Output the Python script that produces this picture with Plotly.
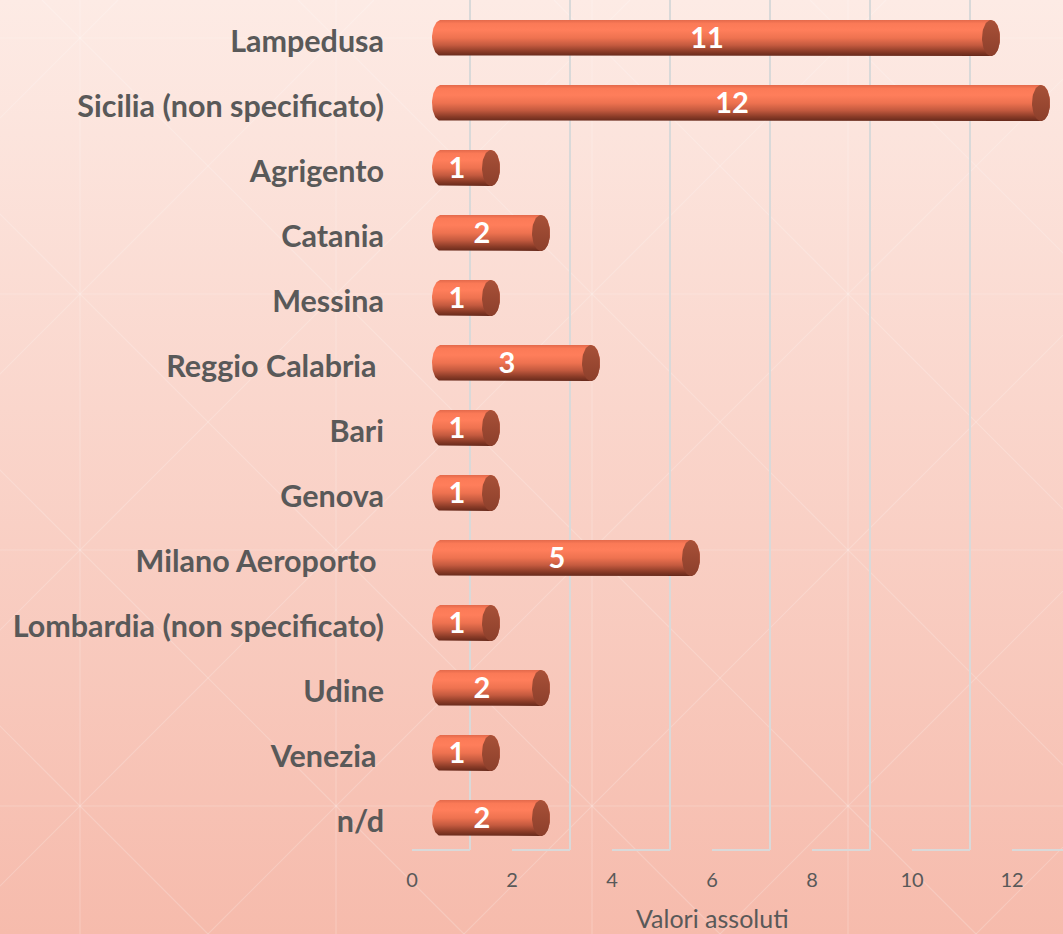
import base64
import numpy as np
import plotly.graph_objects as go

# data (top to bottom)
categories = ["Lampedusa", "Sicilia (non specificato)", "Agrigento", "Catania", "Messina",
              "Reggio Calabria ", "Bari", "Genova", "Milano Aeroporto ",
              "Lombardia (non specificato)", "Udine", "Venezia ", "n/d"]
values = [11, 12, 1, 2, 1, 3, 1, 1, 5, 1, 2, 1, 2]
x_ticks = [0, 2, 4, 6, 8, 10, 12]
axis_title = "Valori assoluti"

W, H = 1063, 934
FONT = "Lato"
GREY = "#595959"
GRID = "#D9D9D9"

body_scale = [[0.0, "#66291B"], [0.12, "#8A3B27"], [0.3, "#C45A3F"], [0.5, "#EE7250"],
              [0.72, "#FF7E5B"], [0.9, "#FB7A57"], [1.0, "#E3694B"]]
cap_scale = [[0.0, "#8C3F2B"], [1.0, "#A85138"]]

half_h = 0.277      # half bar thickness, in category units
cap_rx = 0.18       # ellipse half width of the cylinder ends, in value units
depth = 1.16        # 3d depth of the floor, in value units
floor_y = 84 / H
label_drop = 0.04   # nudge data labels down to sit centred on the bars


def background_svg():
    parts = ['<svg xmlns="http://www.w3.org/2000/svg" width="%d" height="%d">' % (W, H),
             '<defs><linearGradient id="g" x1="0" y1="0" x2="0" y2="1">',
             '<stop offset="0" stop-color="#FDEBE5"/><stop offset="1" stop-color="#F6BBAC"/>',
             '</linearGradient></defs>',
             '<rect width="%d" height="%d" fill="url(#g)"/>' % (W, H),
             '<g stroke="#FFFFFF" stroke-opacity="0.2" stroke-width="1.2">']
    step = 256
    for i in range(-1, 6):
        x = 80 + step * i
        parts.append('<line x1="%d" y1="0" x2="%d" y2="%d"/>' % (x, x, H))
    for j in range(-1, 5):
        y = 38 + step * j
        parts.append('<line x1="0" y1="%d" x2="%d" y2="%d"/>' % (y, W, y))
    for k in range(-6, 8):
        c = 80 - 38 + step * k
        parts.append('<line x1="%d" y1="0" x2="%d" y2="%d"/>' % (c, c + 1200, 1200))
        c2 = 80 + 38 + step * k
        parts.append('<line x1="%d" y1="0" x2="%d" y2="%d"/>' % (c2, c2 - 1200, 1200))
    parts.append('</g></svg>')
    return "data:image/svg+xml;base64," + base64.b64encode("".join(parts).encode()).decode()


n = len(categories)
y_pos = [n - 1 - i for i in range(n)]

fig = go.Figure()

# first subplot: back wall grid (drawn underneath the bars)
fig.add_trace(go.Scatter(x=[None], y=[None], xaxis="x", yaxis="y",
                         showlegend=False, hoverinfo="skip"))
for k in x_ticks:
    fig.add_shape(type="line", xref="x3", yref="paper",
                  x0=k, x1=k + depth, y0=floor_y, y1=floor_y,
                  line=dict(color=GRID, width=2), layer="below")

# second subplot: cylinders
t = np.linspace(0, np.pi, 40)
tt = np.linspace(0, 2 * np.pi, 60)
for v, y in zip(values, y_pos):
    right_x = v + cap_rx + cap_rx * np.sin(t)
    right_y = y + half_h * np.cos(t)
    left_x = cap_rx - cap_rx * np.sin(t)
    left_y = y - half_h * np.cos(t)
    bx = np.concatenate([right_x, left_x, right_x[:1]])
    by = np.concatenate([right_y, left_y, right_y[:1]])
    fig.add_trace(go.Scatter(
        x=bx, y=by, xaxis="x2", yaxis="y2", mode="lines", line=dict(width=0), fill="toself",
        fillgradient=dict(type="vertical", colorscale=body_scale,
                          start=y - half_h, stop=y + half_h),
        hoverinfo="skip", showlegend=False))
    fig.add_trace(go.Scatter(
        x=v + cap_rx + cap_rx * np.sin(tt), y=y + half_h * np.cos(tt),
        xaxis="x2", yaxis="y2", mode="lines", line=dict(width=0), fill="toself",
        fillgradient=dict(type="vertical", colorscale=cap_scale,
                          start=y - half_h, stop=y + half_h),
        hoverinfo="skip", showlegend=False))

fig.add_trace(go.Scatter(
    x=[v / 2 for v in values], y=[y - label_drop for y in y_pos],
    xaxis="x2", yaxis="y2", mode="text",
    text=[str(v) for v in values],
    textfont=dict(family=FONT, size=29, color="white", weight="bold"),
    hoverinfo="skip", showlegend=False))

# third subplot: value tick labels on the floor front edge
fig.add_trace(go.Scatter(x=[None], y=[None], xaxis="x3", yaxis="y3",
                         showlegend=False, hoverinfo="skip"))

fig.add_annotation(text=axis_title, xref="x3", yref="paper",
                   x=6, y=(H - 935) / H, showarrow=False,
                   font=dict(family=FONT, size=25, color=GREY))

fig.update_layout(
    width=W, height=H,
    margin=dict(l=0, r=0, t=0, b=0),
    paper_bgcolor="#F9D3C8", plot_bgcolor="rgba(0,0,0,0)",
    images=[dict(source=background_svg(), xref="paper", yref="paper", x=0, y=1,
                 sizex=1, sizey=1, sizing="stretch", layer="below")],
    xaxis=dict(domain=[0, 1], anchor="y", range=[-470 / 50, (W - 470) / 50],
               tickmode="array", tickvals=x_ticks, showgrid=True, gridcolor=GRID, gridwidth=2,
               zeroline=False, showline=False, ticks="", showticklabels=False, fixedrange=True),
    yaxis=dict(domain=[floor_y, 1], range=[0, 1], visible=False, fixedrange=True),
    xaxis2=dict(domain=[0, 1], anchor="y2", range=[-432 / 50, (W - 432) / 50],
                visible=False, fixedrange=True),
    yaxis2=dict(domain=[0, 1], range=[(818 - H) / 65, 818 / 65], anchor="free",
                position=384 / W, tickmode="array", tickvals=y_pos,
                ticktext=[c.replace(" ", "\u00a0") for c in categories],
                tickfont=dict(family=FONT, size=30.5, color=GREY, weight="bold"),
                ticklabelshift=3,
                showgrid=False, zeroline=False, showline=False, ticks="", fixedrange=True),
    xaxis3=dict(domain=[0, 1], anchor="y3", range=[-412 / 50, (W - 412) / 50],
                tickmode="array", tickvals=x_ticks, showgrid=False, zeroline=False,
                showline=False, ticks="", ticklabelstandoff=16,
                tickfont=dict(family=FONT, size=20, color=GREY), fixedrange=True),
    yaxis3=dict(domain=[floor_y, 1], range=[0, 1], visible=False, fixedrange=True),
    showlegend=False,
)

fig.write_html("out.html", config={"displayModeBar": False},
               post_script="document.body.style.margin='0';")
